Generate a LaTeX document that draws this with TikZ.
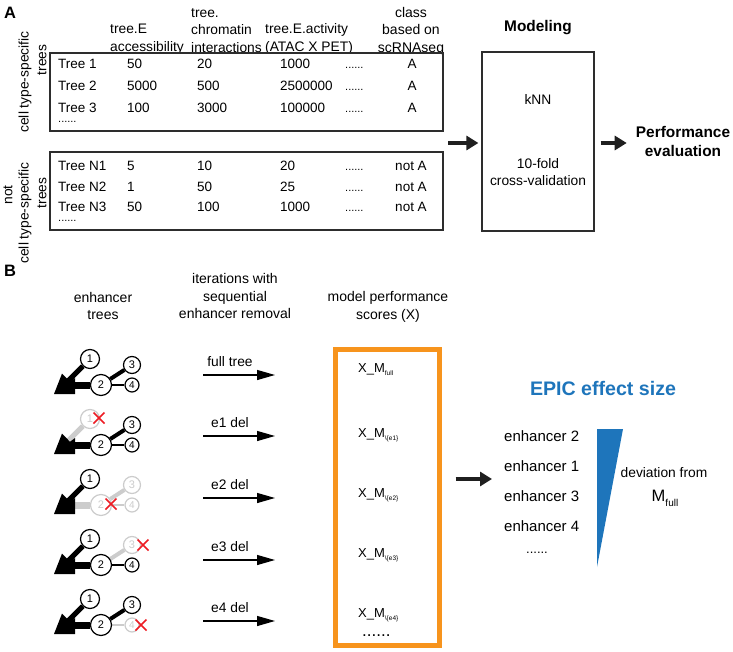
\documentclass[tikz,border=0pt]{standalone}
\usepackage{fontspec}
\setmainfont{Liberation Sans}
\usetikzlibrary{arrows.meta}
\definecolor{orng}{RGB}{247,148,29}
\definecolor{epic}{RGB}{30,117,187}
\definecolor{lgray}{RGB}{204,204,204}
\definecolor{xred}{RGB}{237,28,36}
\definecolor{boxc}{RGB}{45,45,45}
\pgfdeclarelayer{bg}
\pgfsetlayers{bg,main}
\newcommand\xmlab[1]{X\_M\raisebox{-3.2pt}{\fontsize{6.5}{7}\selectfont #1}}
\newcommand\treehead[1]{\fill[black] (54,394+#1) -- (62,373.6+#1) -- (70,381.8+#1) -- (75,378+#1) -- (75,394+#1) -- cycle;}
\begin{document}
\begin{tikzpicture}[x=1pt,y=-1pt,
  txt/.style={inner sep=0pt, font=\fontsize{13.8}{17}\selectfont},
  hdr/.style={inner sep=0pt, align=center, font=\fontsize{14}{17.5}\selectfont},
  hdrl/.style={inner sep=0pt, align=left, font=\fontsize{13.8}{17.5}\selectfont},
  cell/.style={inner sep=0pt, anchor=base west, font=\fontsize{13.5}{16}\selectfont},
  cellc/.style={cell, anchor=base},
  dotc/.style={cell, font=\fontsize{11}{13}\selectfont},
  tbox/.style={draw=boxc, line width=1.2pt, minimum width=393pt, minimum height=78pt, inner sep=0pt},
  boldt/.style={inner sep=0pt, align=center, font=\bfseries\fontsize{15.4}{19}\selectfont},
  panel/.style={inner sep=0pt, font=\bfseries\fontsize{16.5}{17}\selectfont},
  rot/.style={inner sep=0pt, rotate=90, font=\fontsize{13.8}{17}\selectfont},
  fat/.style={line width=3.8pt, draw=black!88, -{Triangle[length=12pt,width=14pt]}},
  thin/.style={line width=1.3pt, -{Triangle[length=18pt,width=10pt]}},
  enode/.style={circle, draw=black, fill=white, line width=1.2pt, inner sep=0pt, font=\fontsize{11}{11}\selectfont},
  keepn/.style={},
  deln/.style={draw=lgray, text=lgray},
  ea/.style={line width=5pt},
  eb/.style={line width=7pt},
  ec/.style={line width=4pt},
  ed/.style={line width=2.5pt},
  redx/.style={draw=xred, line width=1.7pt}
]
\useasboundingbox (0,0) rectangle (733,652);

% ---------------- Panel A ----------------
\node[panel] (lA) at (10,13) {A};

\node[hdrl, anchor=west] (h1) at (110,39) {tree.E\\accessibility};
\node[hdrl, anchor=west] (h2) at (191,30.5) {tree.\\chromatin\\interactions};
\node[hdrl, anchor=west] (h3) at (265,39) {tree.E.activity\\(ATAC X PET)};
\node[hdr] (h4) at (411,31) {class\\based on\\scRNAseq};

\node[tbox] (box1) at (246.5,92) {};
\node[tbox] (box2) at (246.5,191) {};

\foreach \nm/\va/\vb/\vc/\cl [count=\i] in {Tree 1/50/20/1000/A, Tree 2/5000/500/2500000/A, Tree 3/100/3000/100000/A}{
  \pgfmathsetmacro\yy{47+22*\i}
  \node[cell] (pa\i) at (58,\yy) {\nm};
  \node[cell] (pb\i) at (127,\yy) {\va};
  \node[cell] (pc\i) at (197,\yy) {\vb};
  \node[cell] (pd\i) at (280,\yy) {\vc};
  \node[dotc] (pe\i) at (345,\yy) {......};
  \node[cellc] (pf\i) at (412,\yy) {\cl};
}
\node[dotc] (pdots) at (58,123) {......};

\foreach \nm/\va/\vb/\vc/\cl [count=\i] in {Tree N1/5/10/20/not A, Tree N2/1/50/25/not A, Tree N3/50/100/1000/not A}{
  \pgfmathsetmacro\yy{150.5+20.5*\i}
  \node[cell] (qa\i) at (58,\yy) {\nm};
  \node[cell] (qb\i) at (127,\yy) {\va};
  \node[cell] (qc\i) at (197,\yy) {\vb};
  \node[cell] (qd\i) at (280,\yy) {\vc};
  \node[dotc] (qe\i) at (345,\yy) {......};
  \node[cellc] (qf\i) at (411,\yy) {\cl};
}
\node[dotc] (qdots) at (58,222) {......};

\node[rot] (l1a) at (25,82) {cell type-specific};
\node[rot] (l1b) at (42,60) {trees};
\node[rot] (l2n) at (8,195) {not};
\node[rot] (l2a) at (25,213) {cell type-specific};
\node[rot] (l2b) at (42,193) {trees};

\node[boldt] (modlbl) at (538,28) {Modeling};
\node[draw=boxc, line width=1.2pt, minimum width=112pt, minimum height=179pt, inner sep=0pt] (model) at (538,141.5) {};
\node[txt] (knn) at (538,100) {kNN};
\node[txt, align=center] (cv) at (538,172.5) {10-fold\\cross-validation};
\node[boldt] (perf) at (683,141.5) {Performance\\evaluation};

\coordinate (tabs) at (448,143);
\draw[fat, shorten >=3pt] (tabs) -- (model.west |- tabs);
\draw[fat, shorten <=6pt, shorten >=9pt] (model.east |- tabs) -- (perf.west |- tabs);

% ---------------- Panel B ----------------
\node[panel] (lB) at (10,271) {B};
\node[hdr] (hb1) at (103,306) {enhancer\\trees};
\node[hdr] (hb2) at (235,296) {iterations with\\sequential\\enhancer removal};
\node[hdr] (hb3) at (388,307) {model performance\\scores (X)};

% trees: nodes
\foreach \s/\dy/\ca/\cb/\cc/\cd in {a/0/keepn/keepn/keepn/keepn, b/60/deln/keepn/keepn/keepn, c/120/keepn/deln/deln/deln, d/180/keepn/keepn/deln/keepn, e/240/keepn/keepn/keepn/deln}{
  \coordinate (ta\s) at (66,383+\dy);
  \coordinate (tb\s) at (72,385+\dy);
  \node[enode, minimum size=19pt, \ca] (n1\s) at (90,359+\dy) {1};
  \node[enode, minimum size=21pt, \cb] (n2\s) at (101,385+\dy) {2};
  \node[enode, minimum size=17pt, \cc] (n3\s) at (132,365+\dy) {3};
  \node[enode, minimum size=14pt, font=\fontsize{10}{10}\selectfont, \cd] (n4\s) at (132,385+\dy) {4};
}
\begin{pgfonlayer}{bg}
  % full tree
  \draw[ea] (n1a) -- (taa);
  \draw[eb] (n2a) -- (tba);
  \draw[ec] (n2a) -- (n3a);
  \draw[ed] (n2a) -- (n4a);
  \treehead{0}
  % e1 del
  \draw[ea, lgray] (n1b) -- (tab);
  \draw[eb] (n2b) -- (tbb);
  \draw[ec] (n2b) -- (n3b);
  \draw[ed] (n2b) -- (n4b);
  \treehead{60}
  % e2 del
  \draw[eb, lgray] (n2c) -- (tbc);
  \draw[ec, lgray] (n2c) -- (n3c);
  \draw[ed, lgray] (n2c) -- (n4c);
  \draw[ea] (n1c) -- (tac);
  \treehead{120}
  % e3 del
  \draw[ec, lgray] (n2d) -- (n3d);
  \draw[ea] (n1d) -- (tad);
  \draw[eb] (n2d) -- (tbd);
  \draw[ed] (n2d) -- (n4d);
  \treehead{180}
  % e4 del
  \draw[ed, lgray] (n2e) -- (n4e);
  \draw[ea] (n1e) -- (tae);
  \draw[eb] (n2e) -- (tbe);
  \draw[ec] (n2e) -- (n3e);
  \treehead{240}
\end{pgfonlayer}
% red crosses
\draw[redx] (n1b.center) ++(9,-1) +(-5.5,-5.5) -- +(5.5,5.5) +(-5.5,5.5) -- +(5.5,-5.5);
\draw[redx] (n2c.center) ++(10,-1) +(-5.5,-5.5) -- +(5.5,5.5) +(-5.5,5.5) -- +(5.5,-5.5);
\draw[redx] (n3d.center) ++(11,0) +(-5.5,-5.5) -- +(5.5,5.5) +(-5.5,5.5) -- +(5.5,-5.5);
\draw[redx] (n4e.center) ++(9,0) +(-5.5,-5.5) -- +(5.5,5.5) +(-5.5,5.5) -- +(5.5,-5.5);

% iteration arrows
\foreach \lab/\ya [count=\i] in {full tree/375, e1 del/436, e2 del/498, e3 del/560, e4 del/621}{
  \node[txt] (it\i) at (230,\ya-13) {\lab};
  \coordinate (as\i) at (203,\ya);
  \coordinate (ae\i) at (275,\ya);
  \draw[thin] (as\i) -- (ae\i);
}

% scores box
\node[draw=orng, line width=5pt, minimum width=104pt, minimum height=296pt, inner sep=0pt] (scores) at (387.5,497.5) {};
\node[cell, font=\fontsize{13}{15}\selectfont] (x1) at (358,372) {\xmlab{full}};
\node[cell, font=\fontsize{13}{15}\selectfont] (x2) at (358,437) {\xmlab{\textbackslash\{e1\}}};
\node[cell, font=\fontsize{13}{15}\selectfont] (x3) at (358,497) {\xmlab{\textbackslash\{e2\}}};
\node[cell, font=\fontsize{13}{15}\selectfont] (x4) at (358,557) {\xmlab{\textbackslash\{e3\}}};
\node[cell, font=\fontsize{13}{15}\selectfont] (x5) at (358,617) {\xmlab{\textbackslash\{e4\}}};
\node[cell, font=\fontsize{17}{17}\selectfont] (xdots) at (362,636) {......};

% effect size
\coordinate (be) at (492,479);
\draw[fat, shorten <=13.5pt] (scores.east |- be) -- (be);
\node[inner sep=0pt, text=epic, font=\bfseries\fontsize{19.6}{22}\selectfont] (epic) at (603,388) {EPIC effect size};
\foreach \k/\yy in {2/441, 1/471, 3/501, 4/531}{
  \node[cell, font=\fontsize{15}{17}\selectfont] (en\k) at (504,\yy) {enhancer \k};
}
\node[cellc, font=\fontsize{13}{15}\selectfont] (endots) at (537,553) {......};
\fill[epic] (597,429) -- (623,429) -- (597,567) -- cycle;
\node[txt] (dev) at (664,473) {deviation from};
\node[inner sep=0pt] (mfull) at (665,498) {\fontsize{16.5}{18}\selectfont M\raisebox{-5pt}{\fontsize{10}{11}\selectfont full}};
\end{tikzpicture}
\end{document}
